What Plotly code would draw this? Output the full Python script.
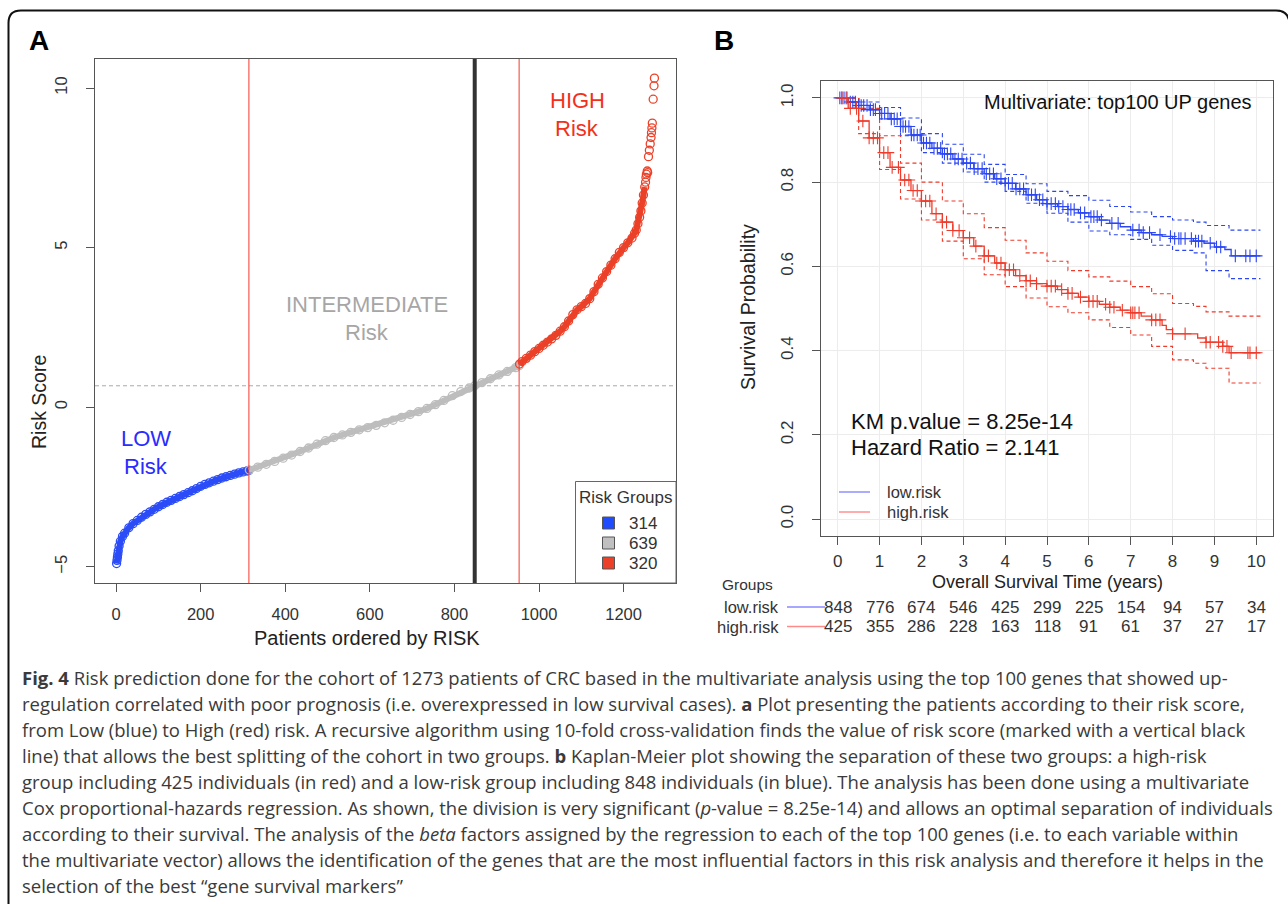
import numpy as np
import plotly.graph_objects as go

W, H = 1288, 904
def px(x): return x / W
def py(y): return 1 - y / H

FONT = "Liberation Sans"
CAPFONT = "Open Sans"

# ---------------- Panel A data ----------------
group_labels = ["LOW", "INTERMEDIATE", "HIGH"]
group_counts = [314, 639, 320]
cutoff_patient = 848

low_idx = [1, 2, 3, 4, 5, 7, 10, 15, 20, 30, 40, 50, 60, 70, 80, 90, 100, 110, 120, 130, 140,
           150, 160, 170, 180, 190, 200, 210, 220, 230, 240, 250, 260, 270, 280, 290, 300, 310, 314]
low_score = [-4.90, -4.80, -4.70, -4.60, -4.50, -4.35, -4.20, -4.05, -3.95, -3.78, -3.65, -3.55,
             -3.45, -3.36, -3.28, -3.20, -3.12, -3.05, -2.98, -2.92, -2.86, -2.80, -2.74, -2.68,
             -2.62, -2.55, -2.48, -2.42, -2.37, -2.32, -2.27, -2.22, -2.18, -2.14, -2.10, -2.06,
             -2.03, -2.00, -1.98]

mid_idx = [315, 335, 355, 375, 395, 415, 435, 455, 475, 495, 515, 535, 555, 575, 595, 615, 635,
           655, 675, 695, 715, 735, 755, 775, 795, 815, 835, 848, 865, 885, 905, 925, 945, 953]
mid_score = [-1.97, -1.88, -1.79, -1.70, -1.60, -1.50, -1.39, -1.28, -1.16, -1.05, -0.95, -0.87,
             -0.79, -0.71, -0.64, -0.57, -0.49, -0.41, -0.32, -0.23, -0.14, -0.04, 0.08, 0.21,
             0.36, 0.49, 0.60, 0.67, 0.77, 0.89, 1.01, 1.12, 1.24, 1.30]

high_idx = [954, 960, 970, 980, 990, 1000, 1010, 1020, 1030, 1040, 1050, 1060, 1070, 1080, 1090,
            1100, 1110, 1120, 1130, 1140, 1150, 1160, 1170, 1180, 1190, 1200, 1210, 1220, 1226,
            1230, 1234, 1238, 1241, 1244, 1247, 1250]
high_score = [1.35, 1.43, 1.53, 1.63, 1.74, 1.84, 1.94, 2.04, 2.14, 2.25, 2.38, 2.52, 2.70, 2.90,
              3.05, 3.15, 3.25, 3.40, 3.62, 3.85, 4.05, 4.25, 4.45, 4.65, 4.85, 5.00, 5.15, 5.30,
              5.45, 5.55, 5.75, 5.95, 6.15, 6.40, 6.65, 6.90]
# sparse upper tail (individual circles visible)
tail_idx = [1252, 1253, 1254, 1256, 1257, 1259, 1261, 1263, 1265, 1266, 1267, 1268, 1270, 1272, 1273]
tail_score = [7.05, 7.20, 7.30, 7.40, 7.35, 7.85, 8.05, 8.25, 8.45, 8.60, 8.75, 8.90, 9.65, 10.07, 10.31]

BLUE_A = "#2b4cf7"
GRAY_A = "#bdbdbd"
RED_A = "#eb4129"

# ---------------- Panel B data ----------------
blue_t = [0, 0.25, 0.5, 0.75, 1.0, 1.25, 1.5, 1.75, 2.0, 2.25, 2.5, 2.75, 3.0, 3.25, 3.5, 3.75,
          4.0, 4.25, 4.5, 4.75, 5.0, 5.25, 5.5, 5.75, 6.0, 6.25, 6.5, 6.75, 7.0, 7.25, 7.5, 7.75,
          8.0, 8.5, 8.75, 9.0, 9.25, 9.4, 10.1]
blue_s = [1.0, 0.99, 0.982, 0.972, 0.963, 0.95, 0.932, 0.912, 0.893, 0.88, 0.867, 0.855, 0.845,
          0.832, 0.82, 0.808, 0.797, 0.784, 0.77, 0.758, 0.749, 0.742, 0.735, 0.727, 0.718, 0.71,
          0.702, 0.694, 0.686, 0.68, 0.675, 0.671, 0.666, 0.66, 0.655, 0.646, 0.64, 0.625, 0.625]

red_t = [0, 0.25, 0.5, 0.75, 1.0, 1.25, 1.5, 1.75, 2.0, 2.25, 2.5, 2.75, 3.0, 3.25, 3.5, 3.75,
         4.0, 4.25, 4.5, 4.75, 5.0, 5.25, 5.5, 5.75, 6.0, 6.25, 6.5, 6.75, 7.0, 7.25, 7.5, 7.75,
         7.85, 8.0, 8.6, 8.8, 9.2, 9.35, 10.1]
red_s = [1.0, 0.975, 0.945, 0.905, 0.87, 0.835, 0.805, 0.78, 0.755, 0.725, 0.705, 0.685, 0.668,
         0.648, 0.625, 0.608, 0.592, 0.578, 0.566, 0.559, 0.553, 0.545, 0.536, 0.527, 0.517, 0.51,
         0.503, 0.496, 0.49, 0.482, 0.473, 0.46, 0.45, 0.44, 0.43, 0.42, 0.41, 0.395, 0.395]

ci_t = [0, 0.5, 1.0, 1.5, 2.0, 2.5, 3.0, 3.5, 4.0, 4.5, 5.0, 5.5, 6.0, 6.5, 7.0, 7.5, 8.0, 8.5,
        8.8, 9.35, 10.1]
blue_up = [1.0, 0.99, 0.977, 0.952, 0.915, 0.89, 0.866, 0.842, 0.818, 0.796, 0.778, 0.768, 0.757,
           0.742, 0.729, 0.718, 0.71, 0.705, 0.697, 0.686, 0.686]
blue_lo = [1.0, 0.972, 0.95, 0.91, 0.87, 0.845, 0.824, 0.80, 0.778, 0.75, 0.726, 0.705, 0.684,
           0.675, 0.664, 0.65, 0.638, 0.632, 0.59, 0.571, 0.571]
red_up = [1.0, 0.975, 0.91, 0.845, 0.80, 0.755, 0.725, 0.692, 0.662, 0.632, 0.612, 0.59, 0.575,
          0.565, 0.552, 0.535, 0.512, 0.505, 0.492, 0.482, 0.482]
red_lo = [1.0, 0.915, 0.83, 0.76, 0.71, 0.66, 0.618, 0.58, 0.552, 0.525, 0.504, 0.49, 0.473, 0.455,
          0.437, 0.41, 0.378, 0.37, 0.358, 0.323, 0.323]

blue_censor = [0.05, 0.1, 0.15, 0.22, 0.3, 0.36, 0.42, 0.5, 0.56, 0.62, 0.7, 0.78, 0.85, 0.9, 1.0,
               1.05, 1.12, 1.2, 1.28, 1.35, 1.42, 1.5, 1.56, 1.62, 1.7, 1.76, 1.82, 1.9, 1.97,
               2.05, 2.12, 2.2, 2.3, 2.38, 2.46, 2.55, 2.62, 2.7, 2.8, 2.88, 2.97, 3.08, 3.17,
               3.26, 3.35, 3.45, 3.55, 3.63, 3.72, 3.8, 3.9, 4.0, 4.08, 4.17, 4.26, 4.35, 4.44,
               4.55, 4.63, 4.72, 4.82, 4.9, 5.0, 5.1, 5.2, 5.28, 5.38, 5.5, 5.57, 5.65, 5.8, 5.9,
               6.05, 6.12, 6.2, 6.3, 6.55, 6.7, 7.05, 7.2, 7.3, 7.45, 7.7, 7.95, 8.05, 8.15, 8.2,
               8.3, 8.45, 8.55, 8.62, 8.7, 8.9, 9.05, 9.15, 9.5, 9.75, 9.85, 10.0]
red_censor = [0.1, 0.2, 0.3, 0.45, 0.6, 0.75, 0.85, 0.95, 1.1, 1.2, 1.3, 1.45, 1.6, 1.7, 1.8, 1.9,
              2.0, 2.1, 2.2, 2.35, 2.5, 2.6, 2.75, 2.9, 3.0, 3.15, 3.3, 3.5, 3.6, 3.8, 3.9, 4.0,
              4.1, 4.2, 4.35, 4.5, 4.6, 4.75, 5.0, 5.1, 5.2, 5.35, 5.5, 5.6, 5.8, 6.0, 6.1, 6.2,
              6.4, 6.5, 6.6, 6.8, 7.0, 7.05, 7.1, 7.2, 7.5, 7.6, 7.7, 8.0, 8.3, 8.8, 8.9, 9.1,
              9.2, 9.3, 9.4, 9.8, 9.85, 10.0]

years = list(range(0, 11))
low_risk_n = [848, 776, 674, 546, 425, 299, 225, 154, 94, 57, 34]
high_risk_n = [425, 355, 286, 228, 163, 118, 91, 61, 37, 27, 17]

BLUE_B = "#2b46f2"
RED_B = "#ee3b2b"

caption_lines = [
    "<b>Fig. 4</b> Risk prediction done for the cohort of 1273 patients of CRC based in the multivariate analysis using the top 100 genes that showed up-",
    "regulation correlated with poor prognosis (i.e. overexpressed in low survival cases). <b>a</b> Plot presenting the patients according to their risk score,",
    "from Low (blue) to High (red) risk. A recursive algorithm using 10-fold cross-validation finds the value of risk score (marked with a vertical black",
    "line) that allows the best splitting of the cohort in two groups. <b>b</b> Kaplan-Meier plot showing the separation of these two groups: a high-risk",
    "group including 425 individuals (in red) and a low-risk group including 848 individuals (in blue). The analysis has been done using a multivariate",
    "Cox proportional-hazards regression. As shown, the division is very significant (<i>p</i>-value = 8.25e-14) and allows an optimal separation of individuals",
    "according to their survival. The analysis of the <i>beta</i> factors assigned by the regression to each of the top 100 genes (i.e. to each variable within",
    "the multivariate vector) allows the identification of the genes that are the most influential factors in this risk analysis and therefore it helps in the",
    "selection of the best \u201cgene survival markers\u201d",
]

# ---------------- figure ----------------
fig = go.Figure()

# Panel A traces
for xs, ys, col, mode in [(low_idx, low_score, BLUE_A, "lines+markers"),
                          (mid_idx, mid_score, GRAY_A, "lines+markers"),
                          (high_idx, high_score, RED_A, "lines+markers"),
                          (tail_idx, tail_score, RED_A, "markers")]:
    fig.add_trace(go.Scatter(
        x=xs, y=ys, mode=mode, xaxis="x", yaxis="y", showlegend=False,
        line=dict(color=col, width=6),
        marker=dict(symbol="circle-open", size=8, color=col, line=dict(width=1.3, color=col)),
    ))

# Panel B: CIs
def ci(t, s, col):
    fig.add_trace(go.Scatter(x=t, y=s, mode="lines", xaxis="x2", yaxis="y2", showlegend=False,
                             line=dict(color=col, width=1.1, dash="4px,3px", shape="hv")))
ci(ci_t, blue_up, BLUE_B)
ci(ci_t, blue_lo, BLUE_B)
ci(ci_t, red_up, RED_B)
ci(ci_t, red_lo, RED_B)

for t, s, cens, col in [(blue_t, blue_s, blue_censor, BLUE_B), (red_t, red_s, red_censor, RED_B)]:
    fig.add_trace(go.Scatter(x=t, y=s, mode="lines", xaxis="x2", yaxis="y2", showlegend=False,
                             line=dict(color=col, width=1.3, shape="hv")))
    ta = np.array(t); sa = np.array(s)
    cy = sa[np.searchsorted(ta, np.array(cens), side="right") - 1]
    fig.add_trace(go.Scatter(x=cens, y=cy, mode="markers", xaxis="x2", yaxis="y2", showlegend=False,
                             marker=dict(symbol="cross-thin", size=9, color=col,
                                         line=dict(width=1.1, color=col))))

shapes = []
annots = []

def note(x, y, text, size, color="#222", family=FONT, xanchor="center", textangle=0, xref="paper"):
    annots.append(dict(x=x, y=py(y), xref=xref, yref="paper", text=text, showarrow=False,
                       xanchor=xanchor, yanchor="middle", textangle=textangle,
                       font=dict(family=family, size=size, color=color)))

# outer rounded border
def P(x, y): return f"{px(x):.5f},{py(y):.5f}"
shapes.append(dict(type="path", xref="paper", yref="paper",
                   path=f"M {P(8.5, 905)} L {P(8.5, 23)} Q {P(8.5, 10.5)} {P(21, 10.5)} "
                        f"L {P(1276, 10.5)} Q {P(1287, 10.5)} {P(1289, 20)}",
                   line=dict(color="#111", width=2)))

# Panel A lines
b1 = group_counts[0]
b2 = group_counts[0] + group_counts[1]
for xv in (b1, b2):
    shapes.append(dict(type="line", xref="x", yref="y domain", x0=xv, x1=xv, y0=0, y1=1,
                       line=dict(color="#f5382a", width=1)))
shapes.append(dict(type="line", xref="x", yref="y domain", x0=cutoff_patient, x1=cutoff_patient,
                   y0=0, y1=1, line=dict(color="#333333", width=4)))
cut_score = mid_score[mid_idx.index(cutoff_patient)]
shapes.append(dict(type="line", xref="x domain", yref="y", x0=0, x1=1, y0=cut_score, y1=cut_score,
                   line=dict(color="#aaaaaa", width=1, dash="4px,3px"), layer="below"))

# Panel A legend box
shapes.append(dict(type="rect", xref="paper", yref="paper", x0=px(575.5), x1=px(676), y0=py(583),
                   y1=py(481.5), line=dict(color="#666", width=1), fillcolor="white"))
note(px(626), 497, "Risk Groups", 17, "#333")
for i, (n, col) in enumerate(zip(group_counts, ["#1f4cff", "#c0c0c0", "#ec4128"])):
    yc = 523 + 20 * i
    shapes.append(dict(type="rect", xref="paper", yref="paper", x0=px(602.5), x1=px(614.5),
                       y0=py(yc + 6), y1=py(yc - 6), line=dict(color="#555", width=1),
                       fillcolor=col))
    note(px(643), yc, str(n), 17, "#333")

# Panel A texts
for txt, x, y, col in [("HIGH", 577, 100, "#f2301c"), ("Risk", 577, 128, "#f2301c"),
                       ("INTERMEDIATE", 367, 304, "#a6a6a6"), ("Risk", 367, 332, "#a6a6a6"),
                       ("LOW", 146, 438, "#2a2cff"), ("Risk", 146, 466, "#2a2cff")]:
    note(px(x), y, txt, 22, col)
note(px(39), 41, "<b>A</b>", 28, "#000")
note(px(724), 41, "<b>B</b>", 28, "#000")
note(px(367), 638, "Patients ordered by RISK", 20, "#222")
note(px(39), 402, "Risk Score", 19.5, "#222", textangle=-90)

# Panel B legend box and texts
shapes.append(dict(type="rect", xref="paper", yref="paper", x0=px(822), x1=px(953), y0=py(523),
                   y1=py(471), line=dict(width=0), fillcolor="white", layer="below"))
for i, (lab, col) in enumerate([("low.risk", "#7f7fff"), ("high.risk", "#ff7f7f")]):
    yc = 492 + 20 * i
    shapes.append(dict(type="line", xref="paper", yref="paper", x0=px(839), x1=px(870),
                       y0=py(yc), y1=py(yc), line=dict(color=col, width=1.3)))
    note(px(885), yc, lab, 16.5, "#333", xanchor="left")
note(px(1254), 102, "Multivariate: top100 UP genes", 20, "#111", xanchor="right")
note(px(849), 421, "KM p.value = 8.25e-14", 22, "#111", xanchor="left")
note(px(849), 447, "Hazard Ratio = 2.141", 22, "#111", xanchor="left")
note(px(748), 307, "Survival Probability", 19.5, "#222", textangle=-90)
note(px(1047), 582, "Overall Survival Time (years)", 18, "#222")

# risk table
note(px(720), 584, "Groups", 15.5, "#333", xanchor="left")
for j, (lab, vals, col) in enumerate([("low.risk", low_risk_n, "#8a8aff"),
                                      ("high.risk", high_risk_n, "#ff8a8a")]):
    yc = 607 + 19.5 * j
    note(px(781), yc, lab, 16.5, "#333", xanchor="right")
    shapes.append(dict(type="line", xref="paper", yref="paper", x0=px(787), x1=px(825),
                       y0=py(yc), y1=py(yc), line=dict(color=col, width=1.5)))
    for yr, v in zip(years, vals):
        note(yr, yc, str(v), 17, "#333", xref="x2")

# caption
for k, line in enumerate(caption_lines):
    note(px(20), 677 + 26 * k, line, 18.5, "#3a3a3a", family=CAPFONT, xanchor="left")

axis_common = dict(showline=True, mirror=True, linecolor="#555", linewidth=1, ticks="outside",
                   tickcolor="#555", zeroline=False)

fig.update_layout(
    width=W, height=H, margin=dict(l=0, r=0, t=0, b=0),
    paper_bgcolor="white", plot_bgcolor="white", showlegend=False,
    xaxis=dict(domain=[px(95), px(676)], range=[-50, 1324], tickvals=[0, 200, 400, 600, 800, 1000, 1200],
               ticklen=8, ticklabelstandoff=8, showgrid=False, anchor="y",
               tickfont=dict(family=FONT, size=16.5, color="#333"), **axis_common),
    yaxis=dict(domain=[py(583), py(59)], range=[-5.51, 10.91], tickvals=[-5, 0, 5, 10],
               ticktext=["\u22125", "0", "5", "10"], tickangle=-90, ticklen=8, ticklabelstandoff=12,
               showgrid=False, anchor="x", tickfont=dict(family=FONT, size=16.5, color="#333"),
               **axis_common),
    xaxis2=dict(domain=[px(821), px(1273)], range=[-0.4, 10.4], tickvals=years, ticklen=8,
                ticklabelstandoff=2, showgrid=True, gridcolor="#ececec", anchor="y2",
                tickfont=dict(family=FONT, size=17, color="#333"), **axis_common),
    yaxis2=dict(domain=[py(536), py(81)], range=[-0.04, 1.04], tickvals=[0, 0.2, 0.4, 0.6, 0.8, 1.0],
                ticktext=["0.0", "0.2", "0.4", "0.6", "0.8", "1.0"], tickangle=-90, ticklen=8,
                ticklabelstandoff=12, showgrid=True, gridcolor="#ececec", anchor="x2",
                tickfont=dict(family=FONT, size=17, color="#333"), **axis_common),
    shapes=shapes, annotations=annots,
)

fig.write_html("out.html")
